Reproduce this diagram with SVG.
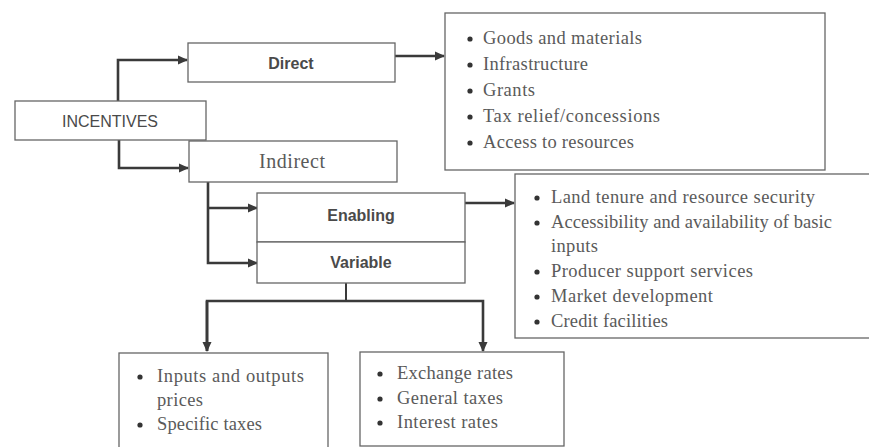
<svg xmlns="http://www.w3.org/2000/svg" width="869" height="447" viewBox="0 0 869 447">
<defs>
<marker id="ah" markerWidth="10" markerHeight="10" refX="9" refY="5" orient="auto" markerUnits="userSpaceOnUse">
<path d="M0,0.5 L10,5 L0,9.5 Z" fill="#3a3a3a"/>
</marker>
<style>
.box{fill:#fff;stroke:#666;stroke-width:1.3}
.lbl{font-family:"Liberation Sans",Arial,sans-serif;font-size:16px;fill:#4a4a4a;text-anchor:middle}
.b{font-weight:bold}
.ser{font-family:"Liberation Serif","Times New Roman",serif;font-size:18.5px;fill:#5a5a5a}
.bul{fill:#333}
.con{fill:none;stroke:#3a3a3a;stroke-width:2.6}
.stem{fill:none;stroke:#3a3a3a;stroke-width:2}
</style>
</defs>
<rect width="869" height="447" fill="#fff"/>
<g id="connectors">
<path class="con" d="M118,101 V60 H187" marker-end="url(#ah)"/>
<path class="con" d="M119,140 V168 H188" marker-end="url(#ah)"/>
<path class="con" d="M395,56 H444" marker-end="url(#ah)"/>
<path class="con" d="M208,182 V263 H257" marker-end="url(#ah)"/>
<path class="con" d="M208,208 H257" marker-end="url(#ah)"/>
<path class="con" d="M465,203 H514" marker-end="url(#ah)"/>
<path class="stem" d="M346,283 V301"/>
<path class="con" d="M207,351 V301 H483 V351" marker-end="url(#ah)"/>
<path class="con" d="M207,301 V351" marker-end="url(#ah)"/>
</g>
<g id="incentives">
<rect class="box" x="15" y="101" width="191" height="39"/>
<text class="lbl" x="110" y="127">INCENTIVES</text>
</g>
<g id="direct">
<rect class="box" x="188" y="43" width="207" height="39"/>
<text class="lbl b" x="291" y="69">Direct</text>
</g>
<g id="indirect">
<rect class="box" x="189" y="141" width="208" height="41"/>
<text class="ser" x="292" y="168" text-anchor="middle" style="font-size:20px" textLength="66" lengthAdjust="spacing">Indirect</text>
</g>
<g id="enabling">
<rect class="box" x="257" y="193" width="208" height="49"/>
<text class="lbl b" x="361" y="221">Enabling</text>
</g>
<g id="variable">
<rect class="box" x="257" y="242" width="208" height="41"/>
<text class="lbl b" x="361" y="268">Variable</text>
</g>
<g id="direct-list">
<rect class="box" x="445" y="13" width="380" height="157"/>
<circle class="bul" cx="470" cy="39" r="2.6"/>
<circle class="bul" cx="470" cy="65" r="2.6"/>
<circle class="bul" cx="470" cy="91" r="2.6"/>
<circle class="bul" cx="470" cy="117" r="2.6"/>
<circle class="bul" cx="470" cy="143" r="2.6"/>
<text class="ser" x="483" y="44" textLength="159" lengthAdjust="spacing">Goods and materials</text>
<text class="ser" x="483" y="70" textLength="105" lengthAdjust="spacing">Infrastructure</text>
<text class="ser" x="483" y="96" textLength="52" lengthAdjust="spacing">Grants</text>
<text class="ser" x="483" y="122" textLength="177" lengthAdjust="spacing">Tax relief/concessions</text>
<text class="ser" x="483" y="148" textLength="151" lengthAdjust="spacing">Access to resources</text>
</g>
<g id="enabling-list">
<rect class="box" x="515" y="174" width="360" height="164"/>
<circle class="bul" cx="537" cy="198" r="2.6"/>
<circle class="bul" cx="537" cy="223" r="2.6"/>
<circle class="bul" cx="537" cy="272" r="2.6"/>
<circle class="bul" cx="537" cy="297" r="2.6"/>
<circle class="bul" cx="537" cy="322" r="2.6"/>
<text class="ser" x="551" y="203" textLength="264" lengthAdjust="spacing">Land tenure and resource security</text>
<text class="ser" x="551" y="228" textLength="281" lengthAdjust="spacing">Accessibility and availability of basic</text>
<text class="ser" x="551" y="252" textLength="47" lengthAdjust="spacing">inputs</text>
<text class="ser" x="551" y="277" textLength="202" lengthAdjust="spacing">Producer support services</text>
<text class="ser" x="551" y="302" textLength="162" lengthAdjust="spacing">Market development</text>
<text class="ser" x="551" y="327" textLength="117" lengthAdjust="spacing">Credit facilities</text>
</g>
<g id="variable-list-1">
<rect class="box" x="119" y="353" width="209" height="100"/>
<circle class="bul" cx="140" cy="377" r="2.6"/>
<circle class="bul" cx="140" cy="425" r="2.6"/>
<text class="ser" x="157" y="382" textLength="147" lengthAdjust="spacing">Inputs and outputs</text>
<text class="ser" x="157" y="406" textLength="46" lengthAdjust="spacing">prices</text>
<text class="ser" x="157" y="430" textLength="105" lengthAdjust="spacing">Specific taxes</text>
</g>
<g id="variable-list-2">
<rect class="box" x="360" y="352" width="204" height="94"/>
<circle class="bul" cx="380" cy="374" r="2.6"/>
<circle class="bul" cx="380" cy="399" r="2.6"/>
<circle class="bul" cx="380" cy="423" r="2.6"/>
<text class="ser" x="397" y="379" textLength="116" lengthAdjust="spacing">Exchange rates</text>
<text class="ser" x="397" y="404" textLength="106" lengthAdjust="spacing">General taxes</text>
<text class="ser" x="397" y="428" textLength="101" lengthAdjust="spacing">Interest rates</text>
</g>
</svg>
